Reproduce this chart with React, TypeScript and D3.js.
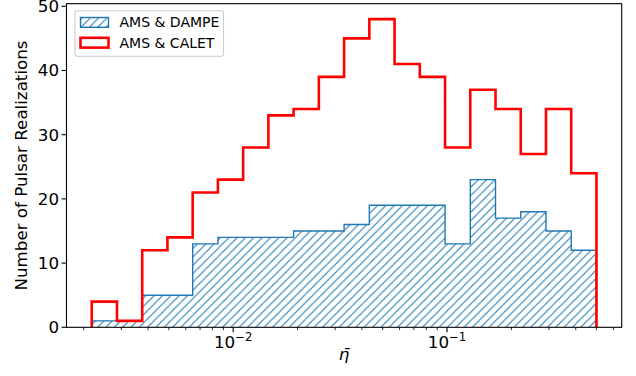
import React from "react";
import * as d3 from "d3";

// Histogram counts per log-spaced bin of eta-bar
const damperCounts = [1, 1, 5, 5, 13, 14, 14, 14, 15, 15, 16, 19, 19, 19, 13, 23, 17, 18, 15, 12];
const caletCounts = [4, 1, 12, 14, 21, 23, 28, 33, 34, 39, 45, 48, 41, 39, 28, 37, 34, 27, 34, 24];
const binLo = 0.00218;
const binHi = 0.5;
const nBins = 20;
const seriesLabels = ["AMS & DAMPE", "AMS & CALET"];
const yTicks = [0, 10, 20, 30, 40, 50];
const xMajorExps = [-2, -1];

const W = 636;
const H = 376;
const M = { left: 66.5, right: 621.7, top: 3.7, bottom: 327.3 };
const FONT = "DejaVu Sans, sans-serif";
const BLUE = "#1f77b4";
const RED = "#ff0000";
const FS = 16.7;
const LEG_FS = 14;

const lLo = Math.log10(binLo);
const lHi = Math.log10(binHi);
const edges = d3.range(nBins + 1).map((i) => Math.pow(10, lLo + ((lHi - lLo) * i) / nBins));
const pad = (lHi - lLo) * 0.05;

const x = d3
  .scaleLog()
  .domain([Math.pow(10, lLo - pad), Math.pow(10, lHi + pad)])
  .range([M.left, M.right]);
const y = d3.scaleLinear().domain([0, 50.4]).range([M.bottom, M.top]);

function stepPoints(counts: number[]): [number, number][] {
  const pts: [number, number][] = [[x(edges[0]), y(0)]];
  counts.forEach((c, i) => {
    pts.push([x(edges[i]), y(c)]);
    pts.push([x(edges[i + 1]), y(c)]);
  });
  pts.push([x(edges[nBins]), y(0)]);
  return pts;
}

const line = d3.line();

export default function App() {
  const bluePts = stepPoints(damperCounts);
  const redPts = stepPoints(caletCounts);
  const minorTicks: number[] = [];
  for (let e = -3; e <= 0; e++) {
    for (let k = 2; k <= 9; k++) {
      const v = k * Math.pow(10, e);
      const px = x(v);
      if (px >= M.left - 0.1 && px <= M.right + 0.1) minorTicks.push(v);
    }
  }
  const hs = 8.33;
  return (
    <svg width={W} height={H} style={{ position: "absolute", left: 0, top: 0 }} fontFamily={FONT}>
      <defs>
        <pattern id="hatch" patternUnits="userSpaceOnUse" width={hs} height={hs}>
          <path
            d={`M0,${hs} L${hs},0 M${-hs / 2},${hs / 2} L${hs / 2},${-hs / 2} M${hs / 2},${hs * 1.5} L${hs * 1.5},${hs / 2}`}
            stroke={BLUE}
            strokeWidth={1.1}
          />
        </pattern>
        <clipPath id="plot">
          <rect x={M.left} y={M.top} width={M.right - M.left} height={M.bottom - M.top} />
        </clipPath>
      </defs>
      <rect width={W} height={H} fill="#fff" />
      <g clipPath="url(#plot)">
        <path d={line(bluePts) + "Z"} fill="url(#hatch)" stroke="none" />
        <path d={line(bluePts) || ""} fill="none" stroke={BLUE} strokeWidth={1.4} />
        <path d={line(redPts) || ""} fill="none" stroke={RED} strokeWidth={2.6} strokeLinejoin="miter" />
      </g>
      {/* spines */}
      <rect
        x={M.left}
        y={M.top}
        width={M.right - M.left}
        height={M.bottom - M.top}
        fill="none"
        stroke="#000"
        strokeWidth={1.1}
      />
      {/* y ticks */}
      {yTicks.map((t) => (
        <g key={t}>
          <line x1={M.left - 4.9} x2={M.left} y1={y(t)} y2={y(t)} stroke="#000" strokeWidth={1.1} />
          <text x={M.left - 7.4} y={y(t)} dy="0.36em" textAnchor="end" fontSize={FS} fill="#000">
            {t}
          </text>
        </g>
      ))}
      {/* x minor ticks */}
      {minorTicks.map((v, i) => (
        <line key={i} x1={x(v)} x2={x(v)} y1={M.bottom} y2={M.bottom + 2.8} stroke="#000" strokeWidth={0.83} />
      ))}
      {/* x major ticks */}
      {xMajorExps.map((e) => {
        const px = x(Math.pow(10, e));
        return (
          <g key={e}>
            <line x1={px} x2={px} y1={M.bottom} y2={M.bottom + 4.9} stroke="#000" strokeWidth={1.1} />
            <text x={px} y={348} textAnchor="middle" fontSize={FS} fill="#000">
              10
              <tspan dy={-7} fontSize={11.7}>
                {"\u2212" + Math.abs(e)}
              </tspan>
            </text>
          </g>
        );
      })}
      {/* axis labels */}
      <text x={(M.left + M.right) / 2} y={360} textAnchor="middle" fontSize={FS} fontStyle="italic" fill="#000">
        {"\u03b7\u0304"}
      </text>
      <text
        transform={`translate(${27},${(M.top + M.bottom) / 2}) rotate(-90)`}
        textAnchor="middle"
        fontSize={FS}
        fill="#000"
      >
        Number of Pulsar Realizations
      </text>
      {/* legend */}
      <g>
        <rect x={75} y={10.7} width={148.5} height={45.5} rx={2.8} fill="#fff" fillOpacity={0.8} stroke="#cccccc" strokeWidth={1.1} />
        <rect x={80.5} y={17.5} width={28} height={9.8} fill="url(#hatch)" stroke={BLUE} strokeWidth={1.4} />
        <text x={119.5} y={27.3} fontSize={LEG_FS} fill="#000">
          {seriesLabels[0]}
        </text>
        <rect x={80.5} y={37.8} width={28} height={9.8} fill="none" stroke={RED} strokeWidth={2.6} />
        <text x={119.5} y={48} fontSize={LEG_FS} fill="#000">
          {seriesLabels[1]}
        </text>
      </g>
    </svg>
  );
}
